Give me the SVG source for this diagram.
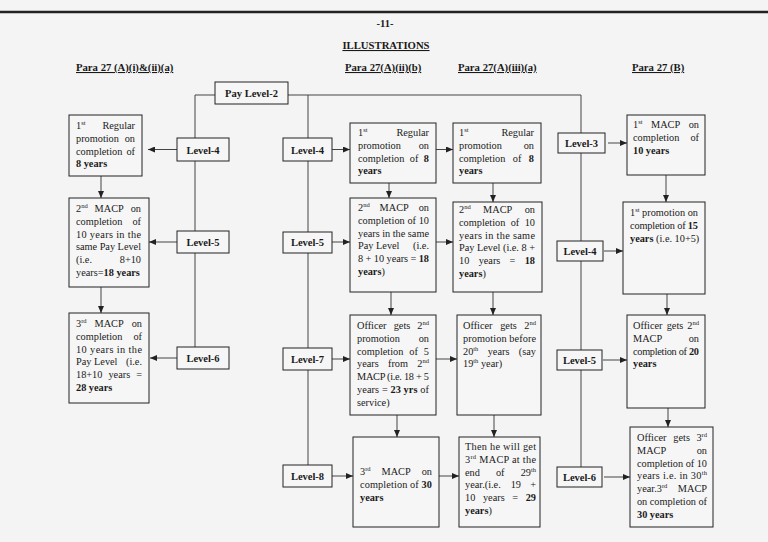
<svg xmlns="http://www.w3.org/2000/svg" width="768" height="542" viewBox="0 0 768 542">
<defs>
<style>
.t{font-family:"Liberation Serif","Times New Roman",serif;font-size:10.3px;fill:#1a1a1a}
.b{font-weight:bold}
.e{text-anchor:end}
.m{text-anchor:middle}
.s{font-size:6.5px}
.lv{font-family:"Liberation Serif","Times New Roman",serif;font-size:10.5px;font-weight:bold;text-anchor:middle;fill:#1a1a1a}
.h{font-family:"Liberation Serif","Times New Roman",serif;font-size:10.7px;font-weight:bold;fill:#1a1a1a;text-decoration:underline}
.box{fill:#f6f6f6;stroke:#222;stroke-width:1}
.c{stroke:#444;stroke-width:1;fill:none}
.a{stroke:#444;stroke-width:1;fill:none;marker-end:url(#ah)}
</style>
<marker id="ah" markerUnits="userSpaceOnUse" markerWidth="7" markerHeight="6" refX="7" refY="3" orient="auto">
<path d="M0,0 L7,3 L0,6 z" fill="#222"/>
</marker>
</defs>
<rect x="0" y="0" width="768" height="542" fill="#f4f4f4"/>
<line x1="0" y1="12" x2="768" y2="12" stroke="#222" stroke-width="2.5"/>
<text class="t b m" x="385" y="27" style="font-size:10.5px">-11-</text>
<text class="h" x="386" y="49" text-anchor="middle">ILLUSTRATIONS</text>
<text class="h" x="76" y="71">Para 27 (A)(i)&amp;(ii)(a)</text>
<text class="h" x="345" y="71">Para 27(A)(ii)(b)</text>
<text class="h" x="458" y="71">Para 27(A)(iii)(a)</text>
<text class="h" x="632" y="71">Para 27 (B)</text>

<g id="connectors">
<polyline class="c" points="215,95 195,95 195,347"/>
<polyline class="c" points="288,95 581,95 581,467"/>
<line class="c" x1="308" y1="95" x2="308" y2="465"/>
<line class="a" x1="177" y1="149.5" x2="148" y2="149.5"/>
<line class="a" x1="177" y1="242" x2="149" y2="242"/>
<line class="a" x1="177" y1="358" x2="150" y2="358"/>
<line class="a" x1="101" y1="176" x2="101" y2="198"/>
<line class="a" x1="101" y1="287" x2="101" y2="313"/>
<line class="a" x1="332" y1="149.5" x2="350" y2="149.5"/>
<line class="a" x1="332" y1="242" x2="350" y2="242"/>
<line class="a" x1="332" y1="359" x2="350" y2="359"/>
<line class="a" x1="332" y1="476" x2="353" y2="476"/>
<line class="a" x1="436" y1="149.5" x2="453" y2="149.5"/>
<line class="a" x1="436" y1="242" x2="453" y2="242"/>
<line class="a" x1="436" y1="359" x2="457" y2="359"/>
<line class="a" x1="439" y1="476" x2="459" y2="476"/>
<line class="a" x1="389" y1="183" x2="389" y2="198"/>
<line class="a" x1="391" y1="292" x2="391" y2="315"/>
<line class="a" x1="397" y1="415" x2="397" y2="437"/>
<line class="a" x1="493" y1="183" x2="493" y2="202"/>
<line class="a" x1="493" y1="292" x2="493" y2="315"/>
<line class="a" x1="494" y1="415" x2="494" y2="437"/>
<line class="a" x1="608" y1="143" x2="627" y2="143"/>
<line class="a" x1="604" y1="251" x2="623" y2="251"/>
<line class="a" x1="603" y1="360" x2="627" y2="360"/>
<line class="a" x1="604" y1="477" x2="630" y2="477"/>
<line class="a" x1="666" y1="175" x2="666" y2="202"/>
<line class="a" x1="667" y1="294" x2="667" y2="315"/>
<line class="a" x1="668" y1="408" x2="668" y2="427"/>
</g>

<g id="pay-level-2"><rect class="box" x="215" y="82" width="73" height="22"/><text class="lv" x="251.5" y="97">Pay Level-2</text></g>

<g id="c1-level-4"><rect class="box" x="177" y="138" width="52" height="23"/><text class="lv" x="203" y="153.5">Level-4</text></g>
<g id="c1-level-5"><rect class="box" x="177" y="231" width="52" height="22"/><text class="lv" x="203" y="245.8">Level-5</text></g>
<g id="c1-level-6"><rect class="box" x="177" y="347" width="52" height="22"/><text class="lv" x="203" y="361.8">Level-6</text></g>

<g id="c2-level-4"><rect class="box" x="283" y="138" width="49" height="23"/><text class="lv" x="307.5" y="153.5">Level-4</text></g>
<g id="c2-level-5"><rect class="box" x="283" y="232" width="49" height="21"/><text class="lv" x="307.5" y="246.3">Level-5</text></g>
<g id="c2-level-7"><rect class="box" x="283" y="348" width="49" height="22"/><text class="lv" x="307.5" y="362.8">Level-7</text></g>
<g id="c2-level-8"><rect class="box" x="283" y="465" width="49" height="22"/><text class="lv" x="307.5" y="479.8">Level-8</text></g>

<g id="c4-level-3"><rect class="box" x="558" y="133" width="47" height="20"/><text class="lv" x="581.5" y="146.8">Level-3</text></g>
<g id="c4-level-4"><rect class="box" x="557" y="241" width="46" height="20"/><text class="lv" x="580" y="254.8">Level-4</text></g>
<g id="c4-level-5"><rect class="box" x="557" y="350" width="45" height="20"/><text class="lv" x="579.5" y="363.8">Level-5</text></g>
<g id="c4-level-6"><rect class="box" x="557" y="467" width="45" height="20"/><text class="lv" x="579.5" y="480.8">Level-6</text></g>

<g id="a1"><rect class="box" x="69" y="115" width="73" height="61"/>
<text class="t" x="76" y="129">1<tspan class="s" dy="-4">st</tspan></text><text class="t e" x="135" y="129">Regular</text>
<text class="t" x="76" y="141.8">promotion</text><text class="t e" x="135" y="141.8">on</text>
<text class="t" x="76" y="154.6">completion</text><text class="t e" x="135" y="154.6">of</text>
<text class="t b" x="76" y="167.4">8 years</text>
</g>

<g id="a2"><rect class="box" x="69" y="198" width="80" height="89"/>
<text class="t" x="76" y="212">2<tspan class="s" dy="-4">nd</tspan></text><text class="t m" x="109.2" y="212">MACP</text><text class="t e" x="141" y="212">on</text>
<text class="t" x="76" y="224.8">completion</text><text class="t e" x="141" y="224.8">of</text>
<text class="t" x="76" y="237.6" textLength="65" lengthAdjust="spacing">10 years in the</text>
<text class="t" x="76" y="250.4" textLength="65" lengthAdjust="spacing">same Pay Level</text>
<text class="t" x="76" y="263.2">(i.e.</text><text class="t e" x="141" y="263.2">8+10</text>
<text class="t" x="76" y="276">years=<tspan class="b">18 years</tspan></text>
</g>

<g id="a3"><rect class="box" x="69" y="313" width="80" height="90"/>
<text class="t" x="76" y="327">3<tspan class="s" dy="-4">rd</tspan></text><text class="t m" x="109.1" y="327">MACP</text><text class="t e" x="142" y="327">on</text>
<text class="t" x="76" y="339.8">completion</text><text class="t e" x="142" y="339.8">of</text>
<text class="t" x="76" y="352.6" textLength="66" lengthAdjust="spacing">10 years in the</text>
<text class="t" x="76" y="365.4">Pay Level</text><text class="t e" x="142" y="365.4">(i.e.</text>
<text class="t" x="76" y="378.2">18+10</text><text class="t m" x="119.3" y="378.2">years</text><text class="t e" x="142" y="378.2">=</text>
<text class="t b" x="76" y="391">28 years</text>
</g>

<g id="b1"><rect class="box" x="350" y="123" width="86" height="60"/>
<text class="t" x="358" y="136">1<tspan class="s" dy="-4">st</tspan></text><text class="t e" x="429" y="136">Regular</text>
<text class="t" x="358" y="148.8">promotion</text><text class="t e" x="429" y="148.8">on</text>
<text class="t" x="358" y="161.6">completion</text><text class="t m" x="414.1" y="161.6">of</text><text class="t b e" x="429" y="161.6">8</text>
<text class="t b" x="358" y="174.4">years</text>
</g>

<g id="b2"><rect class="box" x="350" y="198" width="86" height="94"/>
<text class="t" x="358" y="211">2<tspan class="s" dy="-4">nd</tspan></text><text class="t m" x="394.2" y="211">MACP</text><text class="t e" x="429" y="211">on</text>
<text class="t" x="358" y="223.8" textLength="71" lengthAdjust="spacing">completion of 10</text>
<text class="t" x="358" y="236.6" textLength="71" lengthAdjust="spacing">years in the same</text>
<text class="t" x="358" y="249.4">Pay Level</text><text class="t e" x="429" y="249.4">(i.e.</text>
<text class="t" x="358" y="262.2" textLength="71" lengthAdjust="spacing">8 + 10 years = <tspan class="b">18</tspan></text>
<text class="t" x="358" y="275"><tspan class="b">years</tspan>)</text>
</g>

<g id="b3"><rect class="box" x="350" y="315" width="86" height="100"/>
<text class="t" x="357" y="329">Officer</text><text class="t m" x="402" y="329">gets</text><text class="t e" x="429" y="329">2<tspan class="s" dy="-4">nd</tspan></text>
<text class="t" x="357" y="341.8">promotion</text><text class="t e" x="429" y="341.8">on</text>
<text class="t" x="357" y="354.6">completion</text><text class="t m" x="413.6" y="354.6">of</text><text class="t e" x="429" y="354.6">5</text>
<text class="t" x="357" y="367.4">years</text><text class="t m" x="398" y="367.4">from</text><text class="t e" x="429" y="367.4">2<tspan class="s" dy="-4">nd</tspan></text>
<text class="t" x="357" y="380.2" textLength="72" lengthAdjust="spacing">MACP (i.e. 18 + 5</text>
<text class="t" x="357" y="393" textLength="72" lengthAdjust="spacing">years = <tspan class="b">23 yrs</tspan> of</text>
<text class="t" x="357" y="405.8">service)</text>
</g>

<g id="b4"><rect class="box" x="353" y="437" width="86" height="90"/>
<text class="t" x="360" y="475">3<tspan class="s" dy="-4">rd</tspan></text><text class="t m" x="396.1" y="475">MACP</text><text class="t e" x="432" y="475">on</text>
<text class="t" x="360" y="487.8" textLength="72" lengthAdjust="spacing">completion of <tspan class="b">30</tspan></text>
<text class="t b" x="360" y="500.6">years</text>
</g>

<g id="c1"><rect class="box" x="453" y="123" width="88" height="60"/>
<text class="t" x="459" y="136">1<tspan class="s" dy="-4">st</tspan></text><text class="t e" x="534" y="136">Regular</text>
<text class="t" x="459" y="148.8">promotion</text><text class="t e" x="534" y="148.8">on</text>
<text class="t" x="459" y="161.6">completion</text><text class="t m" x="517.1" y="161.6">of</text><text class="t b e" x="534" y="161.6">8</text>
<text class="t b" x="459" y="174.4">years</text>
</g>

<g id="c2"><rect class="box" x="453" y="202" width="89" height="90"/>
<text class="t" x="459" y="213">2<tspan class="s" dy="-4">nd</tspan></text><text class="t m" x="497.7" y="213">MACP</text><text class="t e" x="535" y="213">on</text>
<text class="t" x="459" y="225.8">completion</text><text class="t m" x="515" y="225.8">of</text><text class="t e" x="535" y="225.8">10</text>
<text class="t" x="459" y="238.6" textLength="76" lengthAdjust="spacing">years in the same</text>
<text class="t" x="459" y="251.4" textLength="76" lengthAdjust="spacing">Pay Level (i.e. 8 +</text>
<text class="t" x="459" y="264.2">10</text><text class="t m" x="489.5" y="264.2">years</text><text class="t m" x="512.5" y="264.2">=</text><text class="t b e" x="535" y="264.2">18</text>
<text class="t" x="459" y="277"><tspan class="b">years</tspan>)</text>
</g>

<g id="c3"><rect class="box" x="457" y="315" width="84" height="100"/>
<text class="t" x="463" y="329">Officer</text><text class="t m" x="508.5" y="329">gets</text><text class="t e" x="536" y="329">2<tspan class="s" dy="-4">nd</tspan></text>
<text class="t" x="463" y="341.8" textLength="73" lengthAdjust="spacing">promotion before</text>
<text class="t" x="463" y="354.6">20<tspan class="s" dy="-4">th</tspan></text><text class="t m" x="498.6" y="354.6">years</text><text class="t e" x="536" y="354.6">(say</text>
<text class="t" x="463" y="367.4">19<tspan class="s" dy="-4">th</tspan><tspan dy="4"> year)</tspan></text>
</g>

<g id="c4"><rect class="box" x="459" y="437" width="81" height="90"/>
<text class="t" x="465" y="450" textLength="71" lengthAdjust="spacing">Then he will get</text>
<text class="t" x="465" y="462.8" textLength="71" lengthAdjust="spacing">3<tspan class="s" dy="-4">rd</tspan><tspan dy="4"> MACP at the</tspan></text>
<text class="t" x="465" y="475.6">end</text><text class="t m" x="500.2" y="475.6">of</text><text class="t e" x="536" y="475.6">29<tspan class="s" dy="-4">th</tspan></text>
<text class="t" x="465" y="488.4">year.(i.e.</text><text class="t m" x="515.8" y="488.4">19</text><text class="t e" x="536" y="488.4">+</text>
<text class="t" x="465" y="501.2">10</text><text class="t m" x="493.8" y="501.2">years</text><text class="t m" x="515.1" y="501.2">=</text><text class="t b e" x="536" y="501.2">29</text>
<text class="t" x="465" y="514"><tspan class="b">years</tspan>)</text>
</g>

<g id="d1"><rect class="box" x="627" y="115" width="78" height="60"/>
<text class="t" x="633" y="128">1<tspan class="s" dy="-4">st</tspan></text><text class="t m" x="665.6" y="128">MACP</text><text class="t e" x="699" y="128">on</text>
<text class="t" x="633" y="140.8">completion</text><text class="t e" x="699" y="140.8">of</text>
<text class="t b" x="633" y="153.6">10 years</text>
</g>

<g id="d2"><rect class="box" x="623" y="202" width="82" height="92"/>
<text class="t" x="630" y="216" textLength="68" lengthAdjust="spacing">1<tspan class="s" dy="-4">st</tspan><tspan dy="4"> promotion on</tspan></text>
<text class="t" x="630" y="228.8" textLength="68" lengthAdjust="spacing">completion of <tspan class="b">15</tspan></text>
<text class="t" x="630" y="241.6"><tspan class="b">years</tspan> (i.e. 10+5)</text>
</g>

<g id="d3"><rect class="box" x="627" y="315" width="78" height="93"/>
<text class="t" x="633" y="329">Officer</text><text class="t m" x="675" y="329">gets</text><text class="t e" x="699" y="329">2<tspan class="s" dy="-4">nd</tspan></text>
<text class="t" x="633" y="341.8">MACP</text><text class="t e" x="699" y="341.8">on</text>
<text class="t" x="633" y="354.6" textLength="66" lengthAdjust="spacing">completion of <tspan class="b">20</tspan></text>
<text class="t b" x="633" y="367.4">years</text>
</g>

<g id="d4"><rect class="box" x="630" y="427" width="83" height="100"/>
<text class="t" x="637" y="441">Officer</text><text class="t m" x="681.6" y="441">gets</text><text class="t e" x="707" y="441">3<tspan class="s" dy="-4">rd</tspan></text>
<text class="t" x="637" y="453.8">MACP</text><text class="t e" x="707" y="453.8">on</text>
<text class="t" x="637" y="466.6" textLength="70" lengthAdjust="spacing">completion of 10</text>
<text class="t" x="637" y="479.4" textLength="70" lengthAdjust="spacing">years i.e. in 30<tspan class="s" dy="-4">th</tspan></text>
<text class="t" x="637" y="492.2">year.3<tspan class="s" dy="-4">rd</tspan></text><text class="t e" x="707" y="492.2">MACP</text>
<text class="t" x="637" y="505" textLength="70" lengthAdjust="spacing">on completion of</text>
<text class="t b" x="637" y="517.8">30 years</text>
</g>
</svg>
